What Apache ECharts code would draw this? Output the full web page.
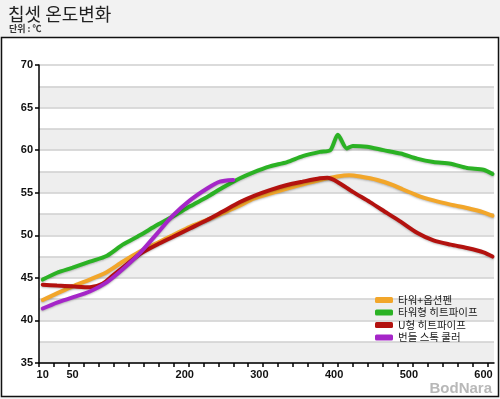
<!DOCTYPE html>
<html>
<head>
<meta charset="utf-8">
<script src="https://cdn.jsdelivr.net/npm/echarts@6/dist/echarts.min.js"></script>
<style>
  html, body { margin: 0; padding: 0; background: #f2f2f2; }
  #chart { width: 500px; height: 399px; }
</style>
</head>
<body>
<div id="chart"></div>
<script>
const title = "칩셋 온도변화";
const unit = "단위 : ℃";
const seriesNames = ["타워+옵션펜", "타워형 히트파이프", "U형 히트파이프", "번들 스톡 쿨러"];
const xLabels = [10, 50, 200, 300, 400, 500, 600];
const yLabels = [35, 40, 45, 50, 55, 60, 65, 70];

// [시간, 온도]
const towerFan = [[10,42.4],[50,44.0],[73,44.8],[96,45.7],[117,46.9],[140,48.1],[163,49.1],[184,50.0],[207,51.0],[230,51.8],[251,52.6],[274,53.5],[292,54.3],[314,54.9],[337,55.5],[358,56.0],[381,56.5],[404,56.9],[420,57.05],[435,56.9],[458,56.5],[479,55.9],[489,55.5],[511,54.7],[533,54.1],[556,53.6],[578,53.2],[600,52.7],[612,52.3]];
const towerPipe = [[10,44.8],[29,45.6],[50,46.2],[73,46.9],[96,47.6],[117,48.9],[140,50.0],[163,51.2],[184,52.2],[207,53.4],[230,54.5],[251,55.6],[274,56.7],[292,57.4],[314,58.1],[337,58.6],[358,59.3],[381,59.8],[395,60.0],[405,61.8],[417,60.2],[425,60.5],[444,60.4],[466,60.0],[489,59.6],[511,59.0],[533,58.6],[556,58.4],[578,57.9],[600,57.7],[612,57.2]];
const uPipe = [[10,44.2],[29,44.1],[50,44.0],[73,43.9],[90,44.3],[104,45.3],[127,46.9],[140,47.8],[163,48.9],[184,49.8],[207,50.8],[230,51.8],[251,52.8],[274,53.9],[292,54.6],[314,55.3],[337,55.9],[358,56.3],[381,56.7],[391,56.75],[404,56.3],[425,55.1],[448,53.9],[471,52.6],[489,51.6],[511,50.3],[533,49.4],[556,48.9],[578,48.5],[600,48.0],[612,47.5]];
const stockCooler = [[10,41.4],[29,42.1],[50,42.7],[73,43.4],[96,44.5],[117,46.0],[140,47.9],[163,50.2],[184,52.3],[207,54.1],[230,55.5],[247,56.3],[265,56.5]];

const colors = ["#f2a62a", "#2bb224", "#b3120f", "#a526c8"];

const xTicks = [];
for (let v = 5; v <= 614; v += 20) xTicks.push(v);

const chart = echarts.init(document.getElementById("chart"));
const lineStyle = (c) => ({
  color: c, width: 4, cap: "round",
  shadowColor: "rgba(0,0,0,0.25)", shadowBlur: 2, shadowOffsetY: 1
});
const makeSeries = (name, data, c) => ({
  name, type: "line", data, smooth: 0.25, showSymbol: false,
  xAxisIndex: 0, yAxisIndex: 1, color: c, lineStyle: lineStyle(c)
});

chart.setOption({
  backgroundColor: "#f2f2f2",
  animation: false,
  textStyle: { fontFamily: "Arial, 'Noto Sans CJK KR'" },
  graphic: [
    { type: "rect", shape: { x: 1.5, y: 37.5, width: 497, height: 359 },
      style: { fill: "#fff", stroke: "#111", lineWidth: 1.5 }, z: -10 },
    { type: "text", left: 8, top: 5,
      style: { text: title, fontSize: 18, fill: "#222", fontFamily: "'Noto Sans CJK KR'" } },
    { type: "text", left: 9, top: 24,
      style: { text: unit, fontSize: 9, fontWeight: "bold", fill: "#333", fontFamily: "'Noto Sans CJK KR'" } },
    { type: "text", right: 8, bottom: 3,
      style: { text: "BodNara", fontSize: 15, fontWeight: "bold", fill: "#b8b8b8", fontFamily: "Arial" } }
  ],
  grid: { left: 39, right: 6, top: 65, bottom: 36 },
  legend: {
    orient: "vertical", left: 370, top: 289,
    icon: "roundRect", itemWidth: 18, itemHeight: 6, itemGap: 0.5,
    data: seriesNames,
    textStyle: { fontSize: 10.5, lineHeight: 12, color: "#222", fontFamily: "'Noto Sans CJK KR'" }
  },
  xAxis: {
    type: "value", min: 5, max: 614,
    axisLine: { lineStyle: { color: "#000", width: 1.5 } },
    axisTick: { customValues: xTicks, length: 4, lineStyle: { color: "#000", width: 1.5 } },
    axisLabel: { customValues: xLabels, color: "#111", fontSize: 11, fontWeight: "bold", margin: 6 },
    splitLine: { show: false }
  },
  yAxis: [
    {
      type: "value", min: 35, max: 70, interval: 2.5,
      axisLine: { show: false }, axisTick: { show: false }, axisLabel: { show: false },
      splitLine: { lineStyle: { color: "#cfcfcf", width: 1.5 } },
      splitArea: { show: true, areaStyle: { color: ["#eeeeee", "#ffffff"] } }
    },
    {
      type: "value", min: 35, max: 70, interval: 5, position: "left",
      axisLine: { show: true, lineStyle: { color: "#000", width: 1.5 } },
      axisTick: { show: true, length: 4, lineStyle: { color: "#000", width: 1.5 } },
      axisLabel: { color: "#111", fontSize: 11, fontWeight: "bold", margin: 6 },
      splitLine: { show: false }
    }
  ],
  series: [
    makeSeries(seriesNames[0], towerFan, colors[0]),
    makeSeries(seriesNames[1], towerPipe, colors[1]),
    makeSeries(seriesNames[2], uPipe, colors[2]),
    makeSeries(seriesNames[3], stockCooler, colors[3])
  ]
});
</script>
</body>
</html>
